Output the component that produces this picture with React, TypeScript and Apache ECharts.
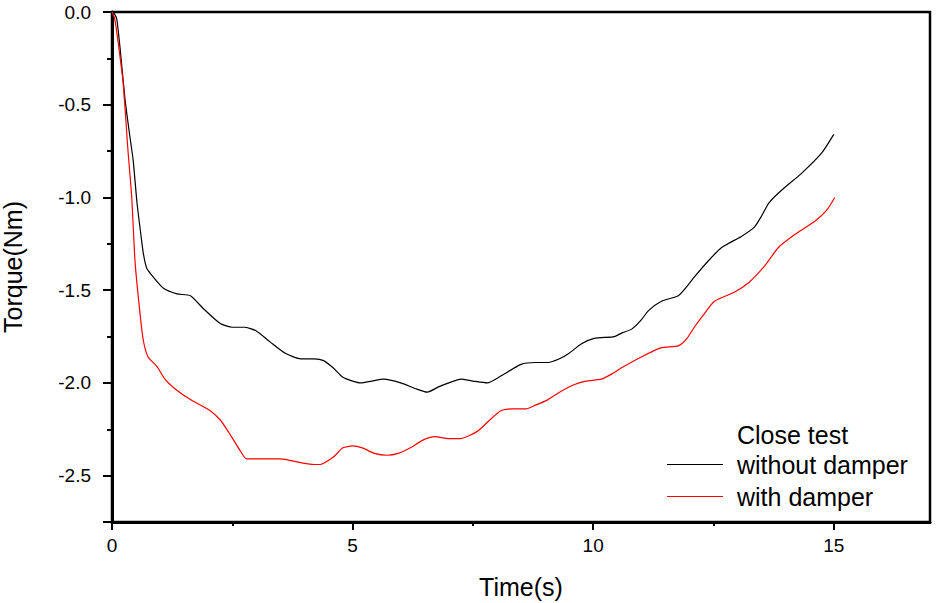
import React, { useEffect, useRef } from "react";
import * as echarts from "echarts";

const FONT = "'Liberation Sans', Arial, sans-serif";

const seriesNames = ["without damper", "with damper"];
const legendTitle = "Close test";

const withoutDamper: number[][] = [
  [0, 0], [0.05, -0.01], [0.1, -0.04], [0.17, -0.2], [0.27, -0.47], [0.36, -0.65],
  [0.44, -0.8], [0.52, -1.03], [0.6, -1.2], [0.65, -1.3], [0.72, -1.38], [0.86, -1.43],
  [1.07, -1.49], [1.35, -1.52], [1.63, -1.53], [1.9, -1.6], [2.25, -1.68], [2.5, -1.7],
  [2.75, -1.7], [3.0, -1.72], [3.29, -1.78], [3.6, -1.84], [3.92, -1.87], [4.2, -1.87],
  [4.4, -1.88], [4.6, -1.92], [4.8, -1.97], [5.0, -1.99], [5.17, -2.0], [5.4, -1.99],
  [5.65, -1.98], [6.0, -2.0], [6.3, -2.03], [6.55, -2.05], [6.8, -2.02], [7.0, -2.0],
  [7.25, -1.98], [7.5, -1.99], [7.8, -2.0], [8.1, -1.96], [8.5, -1.9], [8.8, -1.89],
  [9.06, -1.89], [9.3, -1.87], [9.5, -1.84], [9.75, -1.79], [10.02, -1.76], [10.44, -1.75],
  [10.6, -1.73], [10.8, -1.71], [11.0, -1.66], [11.15, -1.61], [11.42, -1.56], [11.77, -1.53],
  [11.95, -1.48], [12.1, -1.43], [12.4, -1.34], [12.67, -1.27], [13.08, -1.21], [13.35, -1.16],
  [13.5, -1.1], [13.65, -1.03], [13.92, -0.96], [14.33, -0.87], [14.75, -0.76], [15.0, -0.66],
];

const withDamper: number[][] = [
  [0, 0], [0.05, -0.03], [0.1, -0.11], [0.23, -0.38], [0.33, -0.74], [0.41, -1.0],
  [0.48, -1.35], [0.58, -1.62], [0.65, -1.77], [0.75, -1.86], [0.93, -1.91], [1.1, -1.98],
  [1.3, -2.03], [1.63, -2.09], [2.04, -2.15], [2.25, -2.2], [2.46, -2.28], [2.65, -2.36],
  [2.8, -2.41], [3.1, -2.41], [3.5, -2.41], [3.92, -2.43], [4.2, -2.44], [4.33, -2.44],
  [4.6, -2.4], [4.8, -2.35], [5.0, -2.34], [5.2, -2.35], [5.45, -2.38], [5.72, -2.39],
  [5.95, -2.38], [6.2, -2.35], [6.45, -2.31], [6.7, -2.29], [7.0, -2.3], [7.25, -2.3],
  [7.6, -2.26], [7.85, -2.2], [8.08, -2.15], [8.3, -2.14], [8.6, -2.14], [8.8, -2.12],
  [9.06, -2.09], [9.3, -2.05], [9.6, -2.01], [9.85, -1.99], [10.17, -1.98], [10.4, -1.95],
  [10.58, -1.92], [11.0, -1.86], [11.42, -1.81], [11.77, -1.8], [11.95, -1.76], [12.1, -1.7],
  [12.3, -1.63], [12.52, -1.56], [12.94, -1.51], [13.23, -1.46], [13.56, -1.37], [13.85, -1.27],
  [14.19, -1.2], [14.6, -1.13], [14.85, -1.07], [15.02, -1.0],
];

export default function App() {
  const ref = useRef<HTMLDivElement>(null);
  useEffect(() => {
    if (!ref.current) return;
    const chart = echarts.init(ref.current, undefined, { renderer: "svg" });
    const axisLineStyle = { color: "#000", width: 3 };
    const hiddenLine = { color: "#000", width: 3, opacity: 0 };
    const tickLine = { color: "#000", width: 2, opacity: 1 };
    const nameStyle = { fontSize: 25, fontFamily: FONT, color: "#000" };
    const noSplit = { show: false };
    chart.setOption({
      animation: false,
      backgroundColor: "#fff",
      textStyle: { fontFamily: FONT, color: "#000" },
      grid: {
        left: 112, right: 10, top: 12, bottom: 81,
        show: true, borderColor: "#000", borderWidth: 2.5,
        outerBoundsMode: "none",
      },
      xAxis: [
        {
          // data axis + minor ticks
          type: "value", min: 0, max: 17, interval: 2.5, position: "bottom",
          axisLine: { show: true, onZero: false, lineStyle: axisLineStyle },
          axisTick: { show: true, length: 4, lineStyle: tickLine },
          axisLabel: { show: false },
          splitLine: noSplit,
        },
        {
          // major ticks
          type: "value", min: 0, max: 17, interval: 5, position: "bottom",
          axisLine: { show: true, onZero: false, lineStyle: hiddenLine },
          axisTick: { show: true, length: 8, lineStyle: tickLine },
          axisLabel: { show: false },
          splitLine: noSplit,
        },
        {
          // labels + name
          type: "value", min: 0, max: 17, interval: 5, position: "bottom",
          name: "Time(s)", nameLocation: "middle", nameGap: 52, nameTextStyle: nameStyle,
          axisLine: { show: true, onZero: false, lineStyle: hiddenLine },
          axisTick: { show: false },
          axisLabel: {
            show: true, margin: 14, fontSize: 19, fontFamily: FONT, color: "#000",
            showMaxLabel: false,
            formatter: (v: number) => (v % 5 === 0 ? String(v) : ""),
          },
          splitLine: noSplit,
        },
      ],
      yAxis: [
        {
          // data axis + minor ticks
          type: "value", min: -2.75, max: 0, interval: 0.25, position: "left",
          axisLine: { show: true, onZero: false, lineStyle: axisLineStyle },
          axisTick: { show: true, length: 5, lineStyle: tickLine },
          axisLabel: { show: false },
          splitLine: noSplit,
        },
        {
          // major ticks: torque magnitude, drawn inverted
          type: "value", min: 0, max: 2.75, interval: 0.5, inverse: true, position: "left",
          axisLine: { show: true, onZero: false, lineStyle: hiddenLine },
          axisTick: { show: true, length: 9, lineStyle: tickLine },
          axisLabel: { show: false },
          splitLine: noSplit,
        },
        {
          // labels + name
          type: "value", min: 0, max: 2.75, interval: 0.5, inverse: true, position: "left",
          name: "Torque(Nm)", nameLocation: "middle", nameGap: 87, nameTextStyle: nameStyle,
          axisLine: { show: true, onZero: false, lineStyle: hiddenLine },
          axisTick: { show: false },
          axisLabel: {
            show: true, margin: 21, fontSize: 19, fontFamily: FONT, color: "#000",
            showMaxLabel: false,
            formatter: (v: number) =>
              Math.abs(v * 2 - Math.round(v * 2)) < 1e-6 ? (v === 0 ? "0.0" : "-" + v.toFixed(1)) : "",
          },
          splitLine: noSplit,
        },
      ],
      legend: {
        data: seriesNames,
        orient: "vertical",
        left: 667, top: 452,
        icon: "rect",
        itemWidth: 56, itemHeight: 1.2, itemGap: 7,
        padding: 0,
        textStyle: { fontSize: 25, fontFamily: FONT, color: "#000", lineHeight: 25, padding: [0, 0, 0, 9] },
      },
      graphic: [
        {
          type: "text", left: 737, top: 422,
          style: { text: legendTitle, fontSize: 25, fontFamily: FONT, fill: "#000" },
        },
        {
          // hide the end-of-range tick at the bottom-right corner
          type: "rect", left: 926, top: 524, z: 100,
          shape: { width: 8, height: 10 },
          style: { fill: "#fff" },
        },
      ],
      series: [
        {
          name: seriesNames[0], type: "line", data: withoutDamper,
          xAxisIndex: 0, yAxisIndex: 0, showSymbol: false, symbol: "none", smooth: 0.2,
          lineStyle: { color: "#000", width: 1.2 }, itemStyle: { color: "#000" },
        },
        {
          name: seriesNames[1], type: "line", data: withDamper,
          xAxisIndex: 0, yAxisIndex: 0, showSymbol: false, symbol: "none", smooth: 0.2,
          lineStyle: { color: "#ff0000", width: 1.2 }, itemStyle: { color: "#ff0000" },
        },
      ],
    });
    return () => chart.dispose();
  }, []);
  return <div ref={ref} style={{ position: "fixed", left: 0, top: 0, width: 940, height: 603 }} />;
}
